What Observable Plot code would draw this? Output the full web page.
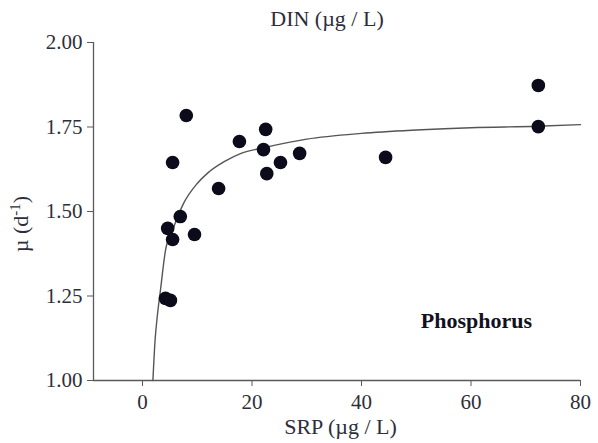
<!DOCTYPE html>
<html>
<head>
<meta charset="utf-8">
<script src="https://cdn.jsdelivr.net/npm/d3@7"></script>
<script src="https://cdn.jsdelivr.net/npm/@observablehq/plot@0.6"></script>
<style>
  html, body { margin: 0; padding: 0; background: #fff; }
</style>
</head>
<body>
<div id="chart"></div>
<script>
// Observed points: SRP (µg/L) vs growth rate µ (d-1)
const srp = [8.0, 22.5, 17.7, 22.1, 5.5, 25.2, 28.7, 22.7, 13.9, 6.9, 4.6, 5.5, 9.5, 4.2, 5.1, 72.3, 72.3, 44.4];
const mu  = [1.784, 1.743, 1.707, 1.683, 1.645, 1.645, 1.672, 1.612, 1.568, 1.485, 1.450, 1.417, 1.432, 1.243, 1.237, 1.873, 1.751, 1.660];

// Fitted curve
const curveSrp = [1.9, 2.3, 2.7, 3.3, 4.2, 5.5, 7.5, 10, 12, 15, 18, 22, 30, 40, 50, 60, 72, 80];
const curveMu  = [1.00, 1.12, 1.19, 1.27, 1.385, 1.445, 1.524, 1.583, 1.615, 1.648, 1.672, 1.688, 1.714, 1.731, 1.741, 1.748, 1.752, 1.757];

const xTicks = [0, 20, 40, 60, 80];
const yTicks = [1.00, 1.25, 1.50, 1.75, 2.00];
const xDomain = [-8.95, 80];
const yDomain = [1, 2];

const titleText = "DIN (µg / L)";
const xLabel = "SRP (µg / L)";
const yLabelMain = "µ (d";
const yLabelSup = "-1";
const yLabelEnd = ")";
const note = "Phosphorus";

const points = srp.map((s, i) => ({srp: s, mu: mu[i]}));
const curve = curveSrp.map((s, i) => ({srp: s, mu: curveMu[i]}));

const axisColor = "#5a5a5a";
const textColor = "#2e2e3a";

const chart = Plot.plot({
  width: 598,
  height: 443,
  marginLeft: 93,
  marginRight: 18,
  marginTop: 42,
  marginBottom: 63,
  style: {fontFamily: "'Liberation Serif', serif", fontSize: "21px", color: axisColor, background: "#fff"},
  x: {domain: xDomain, ticks: xTicks, tickSize: 6, tickPadding: 8, label: null, tickFormat: d3.format("d")},
  y: {domain: yDomain, ticks: yTicks, tickSize: 6, tickPadding: 5, label: null, tickFormat: d3.format(".2f")},
  marks: [
    Plot.ruleY([yDomain[0]], {stroke: axisColor, strokeWidth: 1.3}),
    Plot.ruleX([xDomain[0]], {stroke: axisColor, strokeWidth: 1.3}),
    Plot.line(curve, {x: "srp", y: "mu", curve: "monotone-x", stroke: "#555", strokeWidth: 1.4}),
    Plot.dot(points, {x: "srp", y: "mu", r: 6.8, fill: "#0b0b1c", stroke: "none"}),
    Plot.text([titleText], {frameAnchor: "top", dx: -10, dy: -24, fill: textColor, fontSize: 22, textAnchor: "middle", lineAnchor: "middle"}),
    Plot.text([xLabel], {frameAnchor: "bottom", dx: 3.5, dy: 46, fill: textColor, fontSize: 22, textAnchor: "middle", lineAnchor: "middle"}),
    Plot.text([yLabelMain], {frameAnchor: "left", dx: -73, dy: 12.5, rotate: -90, fill: textColor, fontSize: 22, textAnchor: "middle", lineAnchor: "middle", className: "ylab"}),
    Plot.text([note], {frameAnchor: "bottom-right", dx: -104, dy: -60, fill: "#111122", fontSize: 22, fontWeight: "bold", textAnchor: "middle", lineAnchor: "middle"})
  ]
});
chart.querySelectorAll("g[aria-label$='tick label'] text, g[aria-label='x-axis'] text, g[aria-label='y-axis'] text").forEach(t => t.setAttribute("fill", textColor));
// Add superscript to the y label
const yl = chart.querySelector(".ylab text");
if (yl) {
  const sup = document.createElementNS("http://www.w3.org/2000/svg", "tspan");
  sup.setAttribute("font-size", "15");
  sup.setAttribute("baseline-shift", "super");
  sup.textContent = yLabelSup;
  const end = document.createElementNS("http://www.w3.org/2000/svg", "tspan");
  end.textContent = yLabelEnd;
  yl.appendChild(sup);
  yl.appendChild(end);
}
document.getElementById("chart").appendChild(chart);
</script>
</body>
</html>
